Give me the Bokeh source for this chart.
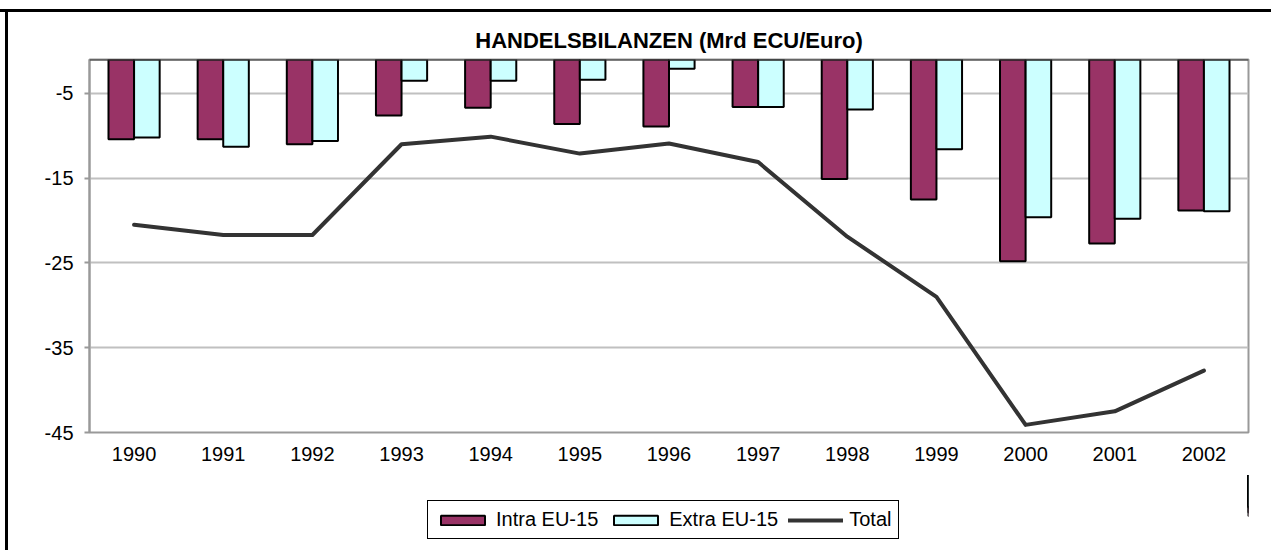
from bokeh.plotting import figure
from bokeh.layouts import column
from bokeh.models import (Range1d, FactorRange, Legend, LegendItem, Title,
                          Span, ColumnDataSource, FixedTicker)
from bokeh.transform import dodge
from bokeh.embed import file_html
from bokeh.resources import INLINE

# ---- data ----
years = ["1990", "1991", "1992", "1993", "1994", "1995", "1996",
         "1997", "1998", "1999", "2000", "2001", "2002"]
intra = [-10.4, -10.4, -11.0, -7.6, -6.7, -8.6, -8.9, -6.6, -15.1, -17.5, -24.8, -22.7, -18.8]
extra = [-10.2, -11.3, -10.6, -3.5, -3.5, -3.4, -2.1, -6.6, -6.9, -11.6, -19.6, -19.8, -18.9]
total = [-20.5, -21.7, -21.7, -11.0, -10.1, -12.1, -10.9, -13.1, -21.9, -29.0, -44.1, -42.5, -37.7]
y_ticks = [-45, -35, -25, -15, -5]
series_names = ["Intra EU-15", "Extra EU-15", "Total"]
title_text = "HANDELSBILANZEN (Mrd ECU/Euro)"

Y_MIN, Y_MAX = -45, -1
FONT = "Liberation Sans"
C_INTRA, C_EXTRA, C_TOTAL = "#993366", "#CCFFFF", "#333333"

src = ColumnDataSource(dict(year=years, intra=intra, extra=extra, total=total))

frame_css = ("linear-gradient(#000,#000) 0 9px / 100% 3px no-repeat, "
             "linear-gradient(#000,#000) 5px 9px / 3px 100% no-repeat, #ffffff")

BW = 0.287


def add_series(fig, shift=0.0):
    r1 = fig.vbar(x=dodge("year", shift - BW / 2, range=fig.x_range), top=Y_MAX, bottom="intra",
                  width=BW, source=src, fill_color=C_INTRA, line_color="black", line_width=2)
    r2 = fig.vbar(x=dodge("year", shift + BW / 2, range=fig.x_range), top=Y_MAX, bottom="extra",
                  width=BW, source=src, fill_color=C_EXTRA, line_color="black", line_width=2)
    r3 = fig.line(x=dodge("year", shift, range=fig.x_range), y="total", source=src,
                  line_color=C_TOTAL, line_width=4, line_cap="round", line_join="round")
    return r1, r2, r3


# ---------------- main chart ----------------
p = figure(x_range=FactorRange(factors=years, range_padding=0),
           y_range=Range1d(Y_MIN, Y_MAX),
           width=1271, height=475, output_backend="svg", toolbar_location=None,
           min_border_left=89, min_border_right=23, min_border_top=59, min_border_bottom=43,
           background_fill_color="white", border_fill_alpha=0)
add_series(p)

p.add_layout(Title(text=title_text, align="center", text_font=FONT, text_font_style="bold",
                   text_font_size="22px", text_color="black", standoff=14), "above")

xa = p.xaxis[0]
xa.axis_line_color = None
xa.major_tick_line_color = None
xa.major_tick_out = 0
xa.major_tick_in = 0
xa.minor_tick_line_color = None
xa.major_label_standoff = 14
xa.major_label_text_font = FONT
xa.major_label_text_font_size = "20px"
xa.major_label_text_color = "black"

ya = p.yaxis[0]
ya.ticker = FixedTicker(ticks=y_ticks)
ya.major_label_overrides = {t: str(t) for t in y_ticks}
ya.axis_line_color = "#999999"
ya.axis_line_width = 2
ya.major_tick_line_color = "#999999"
ya.major_tick_line_width = 2
ya.major_tick_in = 0
ya.major_tick_out = 5
ya.minor_tick_line_color = None
ya.major_label_standoff = 11
ya.major_label_text_font = FONT
ya.major_label_text_font_size = "20px"
ya.major_label_text_color = "black"

p.xgrid.grid_line_color = None
p.ygrid.ticker = FixedTicker(ticks=y_ticks)
p.ygrid.grid_line_color = "#c0c0c0"
p.ygrid.grid_line_width = 2

p.outline_line_color = "#999999"
p.outline_line_width = 2
p.add_layout(Span(location=Y_MAX, dimension="width", line_color="#333333", line_width=2))

# ---------------- legend strip (same series shifted far out of view; only the legend shows) ----
lg = figure(x_range=FactorRange(factors=years, range_padding=0), y_range=Range1d(Y_MIN, Y_MAX),
            width=1271, height=75, output_backend="svg", toolbar_location=None,
            x_axis_type=None, y_axis_type=None,
            min_border=0, outline_line_color=None,
            background_fill_alpha=0, border_fill_alpha=0)
lg.xgrid.visible = False
lg.ygrid.visible = False
k1, k2, k3 = add_series(lg, shift=1000.0)

legend = Legend(items=[LegendItem(label=series_names[0], renderers=[k1]),
                       LegendItem(label=series_names[1], renderers=[k2]),
                       LegendItem(label=series_names[2], renderers=[k3])],
                orientation="horizontal", location=(338, 11),
                glyph_width=55, glyph_height=12, label_standoff=6, spacing=10,
                padding=7, margin=0, border_line_color="black", border_line_width=1,
                border_line_alpha=1, label_text_font=FONT, label_text_font_size="20px",
                label_text_color="black",
                background_fill_color="white", background_fill_alpha=1)
lg.add_layout(legend)

layout = column(p, lg, spacing=0, styles={"background": frame_css})

open("out.html", "w").write(file_html(layout, INLINE))
